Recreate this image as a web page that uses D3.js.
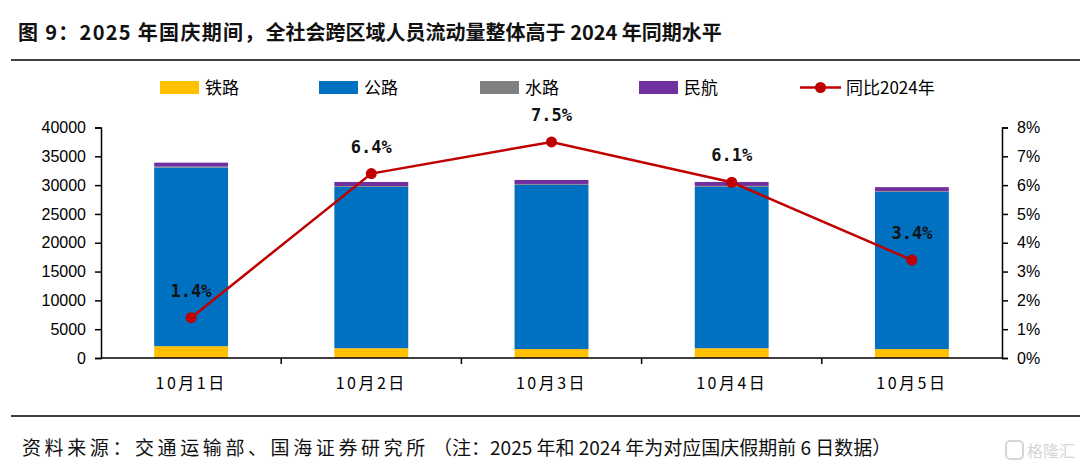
<!DOCTYPE html>
<html>
<head>
<meta charset="utf-8">
<script src="https://cdn.jsdelivr.net/npm/d3@7"></script>
<style>
  body { margin: 0; background: #fff; }
  svg { display: block; }
</style>
</head>
<body>
<svg id="chart" width="1080" height="474"></svg>
<script>
// data (万人次)
var days = ["10月1日", "10月2日", "10月3日", "10月4日", "10月5日"];
var rail = [2050, 1700, 1550, 1700, 1550];
var road = [31020, 28000, 28500, 28010, 27280];
var water = [150, 150, 150, 150, 140];
var air = [680, 700, 700, 690, 680];
var yoy = [1.4, 6.4, 7.5, 6.1, 3.4];

var leftTicks = [0, 5000, 10000, 15000, 20000, 25000, 30000, 35000, 40000];
var rightTicks = [0, 1, 2, 3, 4, 5, 6, 7, 8];

var seriesNames = ["铁路", "公路", "水路", "民航"];
var colors = ["#FFC000", "#0070C0", "#808080", "#7030A0"];
var lineColor = "#C00000";

var CJK = "'Noto Sans CJK SC', sans-serif";
var LAT = "'Liberation Sans', Arial, sans-serif";

var svg = d3.select("#chart");

var x0 = 101, x1 = 1002, yTop = 127.5, yBot = 358;

var x = d3.scaleBand().domain(days).range([x0, x1]).paddingInner(0.59).paddingOuter(0.295);
var y = d3.scaleLinear().domain([0, 40000]).range([yBot, yTop]);
var y2 = d3.scaleLinear().domain([0, 8]).range([yBot, yTop]);

// title
var title = svg.append("text")
  .attr("x", 18).attr("y", 40)
  .style("font-family", CJK).style("font-size", "20px").style("font-weight", "bold")
  .attr("fill", "#111");
title.append("tspan").style("letter-spacing", "1.3px").text("图 9：2025 年国庆期间，");
title.append("tspan").text("全社会跨区域人员流动量整体高于 2024 年同期水平");

svg.append("line").attr("x1", 11).attr("x2", 1080).attr("y1", 60).attr("y2", 60)
  .attr("stroke", "#000").attr("stroke-width", 1.5);
svg.append("line").attr("x1", 11).attr("x2", 1080).attr("y1", 416).attr("y2", 416)
  .attr("stroke", "#000").attr("stroke-width", 1.5);

// footer
var foot = svg.append("text")
  .attr("x", 22).attr("y", 455)
  .style("font-family", CJK).style("font-size", "19px")
  .attr("fill", "#111");
foot.append("tspan").style("letter-spacing", "3.6px").text("资料来源：交通运输部、国海证券研究所");
foot.append("tspan").text(" （注：2025 年和 2024 年为对应国庆假期前 6 日数据）");

// watermark
var wm = svg.append("g").attr("opacity", 0.35);
wm.append("rect").attr("x", 1006).attr("y", 441).attr("width", 17).attr("height", 18).attr("rx", 4)
  .attr("fill", "none").attr("stroke", "#888").attr("stroke-width", 2);
wm.append("text").attr("x", 1027).attr("y", 457)
  .style("font-family", CJK).style("font-size", "16px").attr("fill", "#888").text("格隆汇");

// stacked bars
var rows = days.map(function(d, i) {
  return { day: d, "铁路": rail[i], "公路": road[i], "水路": water[i], "民航": air[i] };
});
var stack = d3.stack().keys(seriesNames)(rows);

svg.append("g").selectAll("g").data(stack).enter().append("g")
  .attr("fill", function(d, i) { return colors[i]; })
  .selectAll("rect").data(function(d) { return d; }).enter().append("rect")
  .attr("x", function(d) { return x(d.data.day); })
  .attr("width", x.bandwidth())
  .attr("y", function(d) { return y(d[1]); })
  .attr("height", function(d) { return y(d[0]) - y(d[1]); });

// left axis
var la = svg.append("g").attr("transform", "translate(" + x0 + ",0)")
  .call(d3.axisLeft(y).tickValues(leftTicks).tickSize(6).tickPadding(9).tickFormat(d3.format("d")));
la.select(".domain").attr("stroke", "#000").attr("stroke-width", 1.5);
la.selectAll(".tick line").attr("stroke", "#000").attr("stroke-width", 1.5);
la.selectAll("text").style("font-size", "16px").style("font-family", LAT).attr("fill", "#000");

// right axis
var ra = svg.append("g").attr("transform", "translate(" + x1 + ",0)")
  .call(d3.axisRight(y2).tickValues(rightTicks).tickSize(6).tickPadding(9)
    .tickFormat(function(d) { return d + "%"; }));
ra.select(".domain").attr("stroke", "#000").attr("stroke-width", 1.5);
ra.selectAll(".tick line").attr("stroke", "#000").attr("stroke-width", 1.5);
ra.selectAll("text").style("font-size", "16px").style("font-family", LAT).attr("fill", "#000");

// x axis line with ticks between categories
svg.append("line").attr("x1", x0).attr("x2", x1).attr("y1", yBot).attr("y2", yBot)
  .attr("stroke", "#000").attr("stroke-width", 1.5);
svg.append("g").selectAll("line").data(days.slice(1)).enter().append("line")
  .attr("x1", function(d) { return x(d) - x.step() * x.paddingInner() / 2; })
  .attr("x2", function(d) { return x(d) - x.step() * x.paddingInner() / 2; })
  .attr("y1", yBot).attr("y2", yBot + 6)
  .attr("stroke", "#000").attr("stroke-width", 1.5);
svg.append("g").selectAll("text").data(days).enter().append("text")
  .attr("x", function(d) { return x(d) + x.bandwidth() / 2; })
  .attr("y", 389).attr("text-anchor", "middle")
  .style("font-family", CJK).style("font-size", "16px").style("letter-spacing", "2.5px")
  .attr("fill", "#000")
  .text(function(d) { return d; });

// yoy line
var cx = function(d, i) { return x(days[i]) + x.bandwidth() / 2; };
svg.append("path").datum(yoy)
  .attr("fill", "none").attr("stroke", lineColor).attr("stroke-width", 2.5)
  .attr("d", d3.line().x(cx).y(function(d) { return y2(d); }));
svg.append("g").selectAll("circle").data(yoy).enter().append("circle")
  .attr("cx", cx).attr("cy", function(d) { return y2(d); }).attr("r", 5.5)
  .attr("fill", lineColor);
svg.append("g").selectAll("text").data(yoy).enter().append("text")
  .attr("x", cx).attr("y", function(d) { return y2(d) - 21; })
  .attr("text-anchor", "middle")
  .style("font-family", "'DejaVu Sans Mono', monospace")
  .style("font-weight", "bold").style("font-size", "17px")
  .attr("fill", "#111")
  .text(function(d) { return d.toFixed(1) + "%"; });

// legend
var legendX = [160, 319, 480, 639];
var lg = svg.append("g");
seriesNames.forEach(function(name, i) {
  lg.append("rect").attr("x", legendX[i]).attr("y", 81).attr("width", 39).attr("height", 13)
    .attr("fill", colors[i]);
  lg.append("text").attr("x", legendX[i] + 45).attr("y", 94)
    .style("font-family", CJK).style("font-size", "17px").attr("fill", "#000").text(name);
});
lg.append("line").attr("x1", 800).attr("x2", 841).attr("y1", 87.5).attr("y2", 87.5)
  .attr("stroke", lineColor).attr("stroke-width", 2.5);
lg.append("circle").attr("cx", 820.5).attr("cy", 87.5).attr("r", 5.5).attr("fill", lineColor);
lg.append("text").attr("x", 846).attr("y", 94)
  .style("font-family", CJK).style("font-size", "17px").attr("fill", "#000").text("同比2024年");
</script>
</body>
</html>
